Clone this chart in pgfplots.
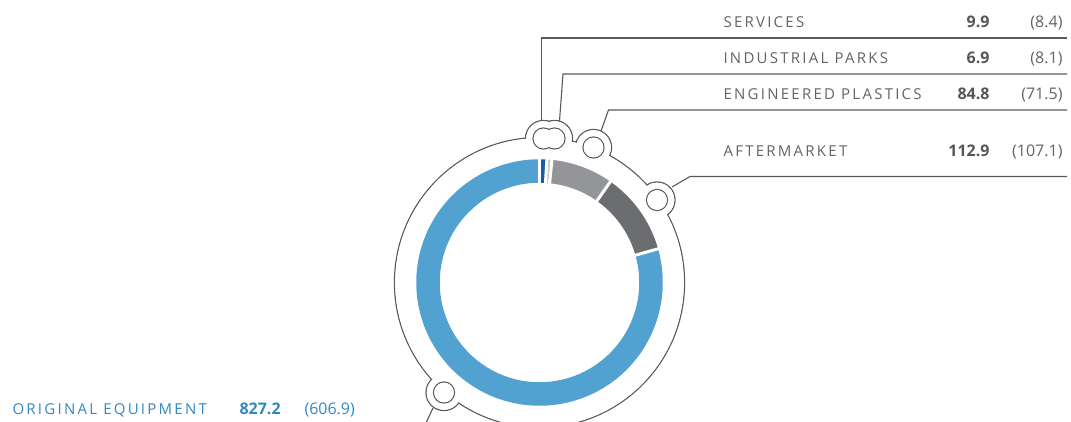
\documentclass[border=0pt]{standalone}
\usepackage{pgfplots}
\pgfplotsset{compat=1.18}
\usepackage{pgfplotstable}
\usepackage{fontspec}
\setmainfont{Open Sans}
\newfontfamily\tracked[LetterSpace=15]{Open Sans}

\definecolor{oeblue}{HTML}{51A2D0}
\definecolor{svblue}{HTML}{1C5AA6}
\definecolor{iplight}{HTML}{C5C7C9}
\definecolor{epgray}{HTML}{939598}
\definecolor{amgray}{HTML}{6C6D71}
\definecolor{linegray}{HTML}{58595B}
\definecolor{txtgray}{HTML}{626366}
\definecolor{valgray}{HTML}{55565A}
\definecolor{txtblue}{HTML}{3089C3}

% segment values (current year) and previous year, clockwise from the top
\pgfplotstableread{
seg value prev col
Services 9.9 8.4 svblue
IndustrialParks 6.9 8.1 iplight
EngineeredPlastics 84.8 71.5 epgray
Aftermarket 112.9 107.1 amgray
OriginalEquipment 827.2 606.9 oeblue
}\segments

% marker positions on the outer ring
\pgfplotstableread{
x y
543.5 282.5
554.5 282.5
593.5 273.5
657 221
444 28.5
}\markers

\def\cx{539.5}
\def\cy{138.5}

% draw a circle of given radius round every marker position
\newcommand\markercircles[2]{%
  \pgfplotsforeachungrouped \j in {0,...,4}{%
    \pgfplotstablegetelem{\j}{x}\of\markers \let\mx\pgfplotsretval
    \pgfplotstablegetelem{\j}{y}\of\markers \let\my\pgfplotsretval
    \edef\temp{\noexpand\path[#1] (axis cs:\mx,\my) circle[radius=#2];}%
    \temp}}

\begin{document}
\begin{tikzpicture}
\def\tot{0}
\pgfplotsforeachungrouped \i in {0,...,4}{%
  \pgfplotstablegetelem{\i}{value}\of\segments
  \pgfmathsetmacro{\tot}{\tot+\pgfplotsretval}}
\begin{axis}[
    x=1pt, y=1pt,
    xmin=0, xmax=1071, ymin=0, ymax=421,
    hide axis,
    ]
\path (axis cs:0,0) rectangle (axis cs:1071,421);

% leader lines
\draw[linegray, line width=1.1pt] (axis cs:541.7,300) -- (axis cs:541.7,383) -- (axis cs:1067,383);
\draw[linegray, line width=1.1pt] (axis cs:559.5,300) -- (axis cs:563,347) -- (axis cs:1067,347);
\draw[linegray, line width=1.1pt] (axis cs:601,290) -- (axis cs:608.5,311) -- (axis cs:1067,311);
\draw[linegray, line width=1.1pt] (axis cs:672,234) -- (axis cs:690,244.5) -- (axis cs:1067,244.5);
\draw[linegray, line width=1.1pt] (axis cs:433,13) -- (axis cs:426,-2);

% outer ring with bumps: strokes first, then white interiors
\draw[linegray, line width=1.3pt] (axis cs:\cx,\cy) circle[radius=145];
\markercircles{draw=linegray, line width=1.3pt}{18}
\fill[white] (axis cs:\cx,\cy) circle[radius=144.35];
\markercircles{fill=white}{17.35}

% donut segments
\def\cum{0}
\pgfplotsforeachungrouped \i in {0,...,4}{%
  \pgfplotstablegetelem{\i}{value}\of\segments \let\segV\pgfplotsretval
  \pgfplotstablegetelem{\i}{col}\of\segments \let\segC\pgfplotsretval
  \pgfmathsetmacro{\segA}{90-360*(\cum/\tot)}
  \pgfmathsetmacro{\cum}{\cum+\segV}
  \pgfmathsetmacro{\segB}{90-360*(\cum/\tot)}
  \edef\temp{\noexpand\draw[\segC, line width=23.5pt] (axis cs:\cx,\cy) ++(\segA:111.5)
      arc[start angle=\segA, end angle=\segB, radius=111.5];}
  \temp
}
\def\cum{0}
\pgfplotsforeachungrouped \i in {0,...,4}{%
  \pgfplotstablegetelem{\i}{value}\of\segments \let\segV\pgfplotsretval
  \pgfmathsetmacro{\segA}{90-360*(\cum/\tot)}
  \pgfmathsetmacro{\cum}{\cum+\segV}
  \edef\temp{\noexpand\draw[white, line width=3pt] (axis cs:\cx,\cy) ++(\segA:97) -- ++(\segA:30);}
  \temp
}

% small marker circles (merged where they overlap)
\markercircles{draw=linegray, line width=1.2pt}{10.5}
\markercircles{fill=white}{9.9}

% labels
\tikzset{lab/.style={anchor=base west, text=txtgray, font=\tracked\fontsize{15}{17}\selectfont},
         val/.style={anchor=base east, text=valgray, font=\bfseries\fontsize{16}{18}\selectfont},
         prv/.style={anchor=base east, text=txtgray, font=\fontsize{16}{18}\selectfont}}
\node[lab] at (axis cs:720,393.3) {SERVICES};
\node[val] at (axis cs:993,393.3) {9.9};
\node[prv] at (axis cs:1066,393.3) {(8.4)};
\node[lab] at (axis cs:720,357.7) {INDUSTRIAL PARKS};
\node[val] at (axis cs:993,357.7) {6.9};
\node[prv] at (axis cs:1066,357.7) {(8.1)};
\node[lab] at (axis cs:720,321.7) {ENGINEERED PLASTICS};
\node[val] at (axis cs:993,321.7) {84.8};
\node[prv] at (axis cs:1066,321.7) {(71.5)};
\node[lab] at (axis cs:720,264.3) {AFTERMARKET};
\node[val] at (axis cs:993,264.3) {112.9};
\node[prv] at (axis cs:1066,264.3) {(107.1)};
\node[lab, text=txtblue] at (axis cs:9,6.7) {ORIGINAL EQUIPMENT};
\node[val, text=txtblue, anchor=base west] at (axis cs:236,6.7) {827.2};
\node[prv, text=txtblue, anchor=base west] at (axis cs:301,6.7) {(606.9)};
\end{axis}
\end{tikzpicture}
\end{document}
